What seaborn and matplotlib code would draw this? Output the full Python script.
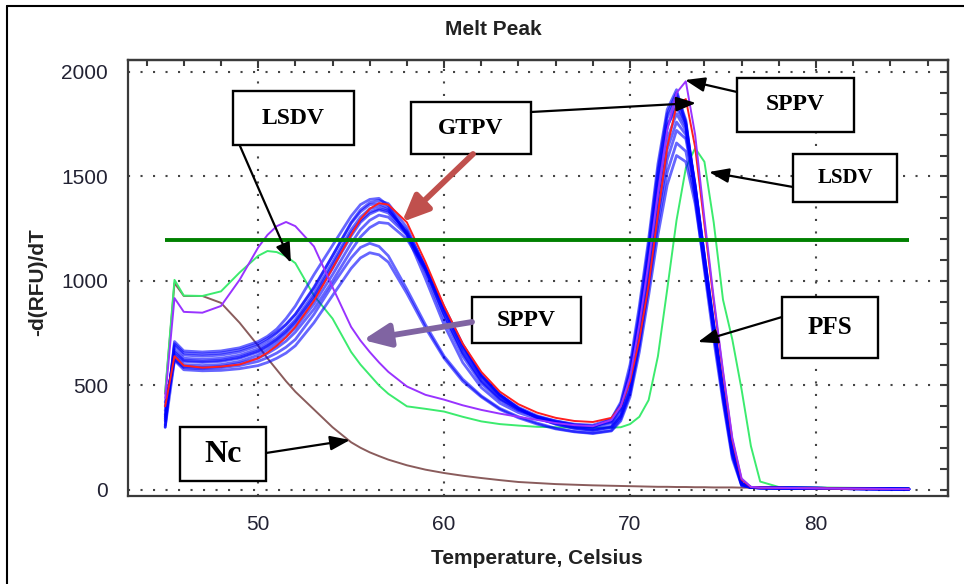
"""Melt peak curves (-dRFU/dT) for capripox / PFS samples with annotations."""

import numpy as np
import pandas as pd
import matplotlib
matplotlib.use('Agg')
import matplotlib.pyplot as plt
from matplotlib.patches import Rectangle, FancyArrowPatch
from matplotlib.lines import Line2D
from matplotlib.ticker import MultipleLocator
import seaborn as sns

# ── Data ─────────────────────────────────────────────────────────────────────
temps = [45, 45.5, 46, 47, 48, 49, 50, 50.5, 51, 51.5, 52, 53, 54, 55, 55.5, 56, 56.5, 57, 58, 59, 60,
         61, 62, 63, 64, 65, 66, 67, 68, 69, 69.5, 70, 70.5, 71, 71.5, 72, 72.5,
         73, 73.5, 74, 74.5, 75, 75.5, 76, 76.5, 77, 78, 80, 82, 85]

pfs_a = [300, 710, 665, 660, 665, 680, 710, 735, 770, 820, 880, 1030, 1170, 1310, 1365, 1390, 1395, 1360, 1220, 1010, 790,
         610, 490, 415, 370, 340, 320, 305, 300, 340, 420, 600, 880, 1200, 1560, 1820, 1915,
         1750, 1400, 1050, 720, 420, 150, 20, 12, 10, 9, 8, 6, 4]
pfs_b = [330, 690, 645, 640, 645, 660, 690, 715, 750, 790, 840, 970, 1120, 1275, 1330, 1365, 1370, 1350, 1230, 1040, 820,
         640, 510, 430, 380, 350, 325, 310, 305, 330, 400, 560, 830, 1150, 1510, 1780, 1880,
         1760, 1440, 1090, 760, 450, 170, 25, 12, 10, 9, 8, 6, 4]
pfs_c = [360, 670, 630, 625, 630, 645, 675, 700, 730, 768, 815, 940, 1090, 1245, 1305, 1345, 1358, 1340, 1230, 1050, 840,
         660, 525, 440, 385, 350, 325, 310, 300, 320, 385, 530, 790, 1110, 1460, 1740, 1850,
         1750, 1460, 1110, 780, 470, 185, 30, 12, 10, 9, 8, 6, 4]
pfs_d = [380, 650, 615, 610, 615, 630, 660, 685, 715, 750, 795, 915, 1060, 1215, 1280, 1320, 1340, 1325, 1225, 1060, 860,
         680, 540, 450, 390, 350, 320, 300, 290, 305, 365, 500, 750, 1060, 1400, 1680, 1800,
         1720, 1460, 1120, 790, 480, 195, 30, 12, 10, 9, 8, 6, 4]
pfs_e = [400, 640, 600, 595, 600, 615, 645, 670, 700, 733, 775, 890, 1030, 1180, 1245, 1290, 1315, 1305, 1220, 1065, 875,
         695, 550, 455, 390, 345, 315, 295, 285, 300, 355, 480, 720, 1020, 1350, 1630, 1760,
         1700, 1450, 1120, 795, 485, 200, 35, 12, 10, 9, 8, 6, 4]
pfs_f = [350, 625, 590, 585, 590, 605, 630, 653, 680, 712, 755, 865, 1000, 1145, 1210, 1255, 1280, 1275, 1200, 1055, 870,
         695, 550, 455, 390, 345, 315, 295, 285, 300, 350, 470, 700, 990, 1310, 1580, 1720,
         1680, 1440, 1115, 790, 480, 195, 30, 12, 10, 9, 8, 6, 4]
pfs_g = [420, 625, 585, 580, 585, 595, 615, 633, 655, 683, 720, 840, 980, 1110, 1160, 1180, 1165, 1120, 960, 790, 640,
         530, 450, 390, 350, 320, 295, 280, 272, 285, 340, 460, 690, 970, 1270, 1520, 1660,
         1620, 1400, 1090, 780, 475, 190, 30, 12, 10, 9, 8, 6, 4]
pfs_h = [300, 620, 575, 570, 572, 580, 595, 610, 630, 655, 690, 800, 930, 1060, 1110, 1135, 1125, 1090, 940, 775, 630,
         520, 445, 385, 345, 315, 292, 278, 270, 282, 330, 445, 660, 930, 1220, 1460, 1600,
         1570, 1370, 1070, 770, 470, 190, 30, 12, 10, 9, 8, 6, 4]
pfs_i = [310, 700, 655, 650, 655, 670, 700, 725, 755, 793, 840, 965, 1120, 1280, 1340, 1375, 1385, 1370, 1255, 1060, 840,
         655, 520, 435, 385, 350, 330, 315, 310, 340, 410, 575, 850, 1170, 1530, 1800, 1900,
         1770, 1430, 1080, 750, 440, 165, 22, 12, 10, 9, 8, 6, 4]
pfs_j = [340, 660, 620, 615, 620, 635, 665, 690, 720, 758, 805, 925, 1075, 1230, 1290, 1330, 1345, 1335, 1240, 1070, 865,
         685, 545, 455, 395, 355, 330, 312, 305, 325, 390, 545, 810, 1120, 1470, 1740, 1830,
         1740, 1450, 1100, 770, 460, 180, 28, 12, 10, 9, 8, 6, 4]
pfs_runs = [pfs_a, pfs_b, pfs_c, pfs_d, pfs_e, pfs_f, pfs_g, pfs_h, pfs_i, pfs_j]

gtpv_run = [400, 640, 595, 585, 590, 600, 630, 657, 690, 730, 780, 905, 1060, 1220, 1295, 1345, 1372, 1365, 1280, 1090, 880,
            700, 565, 470, 410, 370, 345, 330, 325, 345, 400, 520, 720, 980, 1320, 1640, 1840,
            1870, 1640, 1270, 900, 560, 240, 50, 14, 11, 10, 8, 6, 4]
sppv_run = [440, 918, 852, 848, 880, 1005, 1160, 1220, 1262, 1282, 1262, 1165, 970, 780, 715, 660, 610, 565, 495, 455, 432,
            405, 383, 365, 350, 335, 320, 310, 305, 335, 400, 540, 790, 1090, 1420, 1720, 1900,
            1955, 1700, 1300, 920, 570, 250, 55, 15, 11, 10, 8, 6, 4]
lsdv_run = [470, 1005, 930, 928, 950, 1040, 1120, 1143, 1138, 1118, 1085, 930, 820, 660, 600, 550, 500, 460, 400, 388, 375,
            350, 328, 315, 308, 302, 300, 298, 297, 298, 300, 315, 350, 430, 640, 960, 1290,
            1540, 1635, 1570, 1280, 910, 720, 480, 210, 40, 14, 12, 10, 8]
nc_run = [460, 990, 928, 928, 895, 800, 690, 630, 575, 520, 470, 385, 300, 228, 202, 180, 162, 145, 118, 97, 81,
          68, 57, 47, 38, 33, 28, 25, 22, 20, 19, 18, 17, 16, 15, 15, 14,
          14, 13, 13, 12, 12, 12, 11, 11, 11, 10, 9, 8, 7]

threshold = 1195

# annotation boxes, pixel positions (x0, y0, x1, y1) in the 964x584 picture
box_labels = ['LSDV', 'GTPV', 'SPPV', 'LSDV', 'SPPV', 'PFS', 'Nc']
box_px = [(233, 91, 354, 145), (411, 102, 531, 154), (737, 78, 854, 132),
          (793, 154, 897, 202), (472, 297, 581, 343), (782, 297, 878, 358),
          (180, 427, 266, 481)]
box_sizes = [17, 17, 17, 15, 17, 18, 23]

arrow_px = [((240, 146), (291, 263)), ((473, 154), (402, 222)), ((531, 112), (696, 103)),
            ((737, 92), (685, 80)), ((793, 187), (709, 172)), ((472, 322), (363, 340)),
            ((782, 317), (698, 342)), ((266, 453), (350, 440))]
arrow_colors = ['black', '#C0504D', 'black', 'black', 'black', '#8064A2', 'black', 'black']
arrow_thick = [False, True, False, False, False, True, False, False]

W, H = 964, 584


def fx(px):
    return px / W


def fy(py):
    return 1 - py / H


# ── Figure ───────────────────────────────────────────────────────────────────
sns.set_style('white')
plt.rcParams['font.family'] = ['Liberation Sans', 'DejaVu Sans']

fig = plt.figure(figsize=(W / 100, H / 100), dpi=100)
ax = fig.add_axes([fx(128), fy(496), (948 - 128) / W, (496 - 60) / H])

sns.lineplot(x=temps, y=nc_run, color='#8A5C5C', lw=1.4, estimator=None, ax=ax)
sns.lineplot(x=temps, y=lsdv_run, color='#3CEB6E', lw=1.4, estimator=None, ax=ax)
for run in pfs_runs:
    sns.lineplot(x=temps, y=run, color='#0000FF', lw=2.0, alpha=0.6, estimator=None, ax=ax)
sns.lineplot(x=temps, y=gtpv_run, color='#FF2020', lw=1.4, estimator=None, ax=ax)
sns.lineplot(x=temps, y=sppv_run, color='#9933FF', lw=1.4, estimator=None, ax=ax)

ax.hlines(threshold, temps[0], temps[-1], color='#008000', lw=2.8, zorder=4)

ax.set_xlim(43.0, 87.1)
ax.set_ylim(-29, 2057)
ax.xaxis.set_major_locator(MultipleLocator(10))
ax.xaxis.set_minor_locator(MultipleLocator(2))
ax.yaxis.set_major_locator(MultipleLocator(500))
ax.yaxis.set_minor_locator(MultipleLocator(100))
ax.grid(True, which='major', color='#444444', lw=1.5, linestyle=(0, (1, 5)))

for side in ['left', 'bottom', 'top', 'right']:
    ax.spines[side].set_color('#3a3a3a')
    ax.spines[side].set_linewidth(1.6)

ax.tick_params(axis='y', which='major', direction='inout', length=11, width=1.5,
               pad=9, labelsize=15, labelcolor='#222233', color='#3a3a3a')
ax.tick_params(axis='y', which='minor', direction='inout', length=7, width=1.5, color='#3a3a3a')
ax.tick_params(axis='x', which='major', direction='inout', length=11, width=1.5,
               pad=8, labelsize=15, labelcolor='#222233', color='#3a3a3a')
ax.tick_params(axis='x', which='minor', direction='out', length=5, width=1.5, color='#3a3a3a')

top = ax.secondary_xaxis('top')
top.xaxis.set_major_locator(MultipleLocator(10))
top.xaxis.set_minor_locator(MultipleLocator(2))
top.tick_params(which='major', direction='in', length=6, width=1.5, labeltop=False, color='#3a3a3a')
top.tick_params(which='minor', direction='in', length=4, width=1.5, color='#3a3a3a')
top.spines['top'].set_linewidth(1.6)
top.spines['top'].set_color('#3a3a3a')

right = ax.secondary_yaxis('right')
right.yaxis.set_major_locator(MultipleLocator(500))
right.yaxis.set_minor_locator(MultipleLocator(100))
right.tick_params(which='both', direction='in', length=6, width=1.5, labelright=False, color='#3a3a3a')
right.spines['right'].set_linewidth(1.6)
right.spines['right'].set_color('#3a3a3a')

ax.set_xlabel('Temperature, Celsius', fontsize=15, fontweight='bold', color='#222222')
ax.xaxis.set_label_coords((537 - 128) / 820, (496 - 549) / 436)
ax.set_ylabel('-d(RFU)/dT', fontsize=15, fontweight='bold', color='#222222')
ax.yaxis.set_label_coords((47 - 128) / 820, (496 - 282) / 436)
ax.set_title('Melt Peak', fontsize=15, fontweight='bold', color='#222222',
             x=(493 - 128) / 820, y=(496 - 43) / 436)

# annotation boxes and arrows
for label, (x0, y0, x1, y1), size in zip(box_labels, box_px, box_sizes):
    rect = Rectangle((fx(x0), fy(y1)), fx(x1) - fx(x0), fy(y0) - fy(y1),
                     transform=fig.transFigure, facecolor='white', edgecolor='black',
                     lw=1.7, zorder=5)
    fig.add_artist(rect)
    fig.text(fx((x0 + x1) / 2), fy((y0 + y1) / 2), label, ha='center', va='center',
             fontsize=size, fontweight='bold', family=['Liberation Serif', 'DejaVu Serif'],
             color='black', zorder=6)

for (start, tip), color, thick in zip(arrow_px, arrow_colors, arrow_thick):
    if thick:
        style, lw = '-|>,head_length=0.8,head_width=0.35', 4.2
    else:
        style, lw = '-|>,head_length=0.6,head_width=0.22', 1.6
    arrow = FancyArrowPatch((fx(start[0]), fy(start[1])), (fx(tip[0]), fy(tip[1])),
                            transform=fig.transFigure, arrowstyle=style, mutation_scale=20,
                            lw=lw, color=color, shrinkA=0, shrinkB=0, zorder=7)
    fig.add_artist(arrow)

# outer frame (top and left edges only are visible in the picture)
fig.add_artist(Line2D([fx(7), fx(7)], [0, fy(6)], transform=fig.transFigure, color='black', lw=1.5))
fig.add_artist(Line2D([fx(7), 1], [fy(6), fy(6)], transform=fig.transFigure, color='black', lw=1.5))

fig.savefig('out.png', dpi=100)
plt.close(fig)
